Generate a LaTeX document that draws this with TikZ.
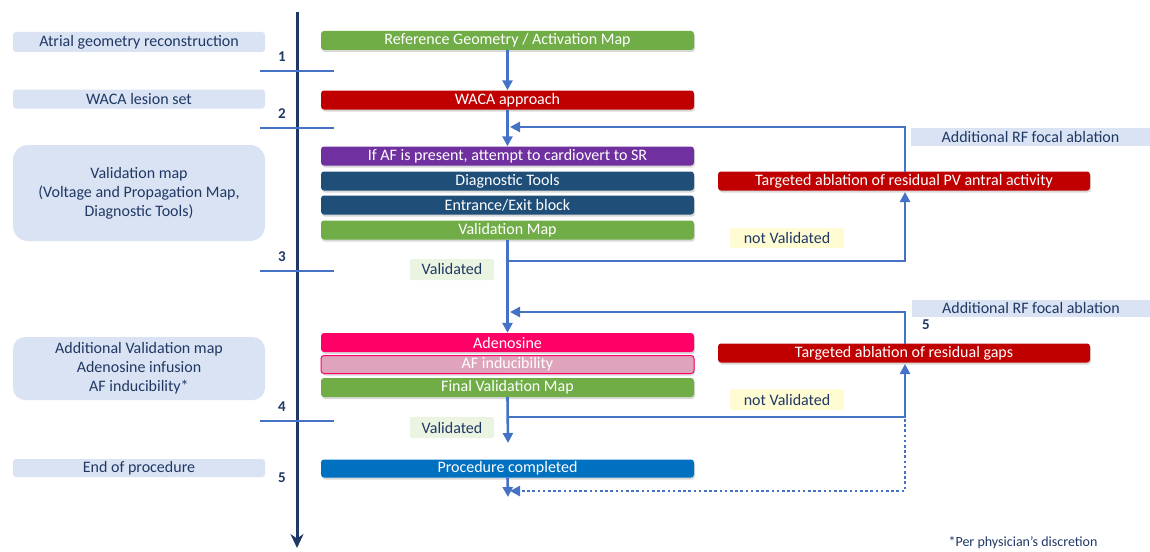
\documentclass[tikz,border=0pt]{standalone}
\usepackage{fontspec}
\setmainfont{Carlito}
\usetikzlibrary{arrows.meta,shadows}
\definecolor{navy}{HTML}{203864}
\definecolor{lblue}{HTML}{DAE3F3}
\definecolor{arrblue}{HTML}{4472C4}
\definecolor{cgreen}{HTML}{70AD47}
\definecolor{cred}{HTML}{C00000}
\definecolor{cpurple}{HTML}{7030A0}
\definecolor{cdblue}{HTML}{1F4E79}
\definecolor{cpink}{HTML}{FF0066}
\definecolor{clpink}{HTML}{DFA3BC}
\definecolor{cproc}{HTML}{0070C0}
\definecolor{cyellow}{HTML}{FFFBD3}
\definecolor{cvalid}{HTML}{EAF4E1}
\tikzset{
  cbox/.style={rounded corners=3pt, minimum width=373pt, minimum height=19pt, inner sep=0pt,
    text=white, font=\fontsize{16}{18}\selectfont,
    drop shadow={opacity=0.3, shadow xshift=1pt, shadow yshift=-2pt}},
  rbox/.style={cbox, minimum width=372pt},
  lbox/.style={fill=lblue, rounded corners=3pt, minimum width=252pt, inner sep=0pt,
    text=navy, font=\fontsize{16}{19}\selectfont, align=center},
  tag/.style={rounded corners=2pt, inner sep=0pt, text=navy, font=\fontsize{16}{18}\selectfont},
  num/.style={text=navy, font=\bfseries\fontsize{15}{17}\selectfont},
  tick/.style={draw=arrblue, line width=2.6pt},
  flow/.style={draw=arrblue, line width=2.6pt},
  arr/.style={flow, -{Triangle[length=10pt,width=10pt]}},
  axisline/.style={draw=navy, line width=3pt, -{Stealth[length=14pt,width=13pt]}},
}
\begin{document}
\begin{tikzpicture}[x=1pt,y=-1pt]
\useasboundingbox (0,0) rectangle (1150,551);
% axis
\draw[axisline] (297,12) -- (297,548);
\foreach \yy in {71,128,271,421} \draw[tick] (260,\yy) -- (334,\yy);
\node[num] (n1) at (282,57) {1};
\node[num] (n2) at (282,114) {2};
\node[num] (n3) at (282,257) {3};
\node[num] (n4) at (282,407) {4};
\node[num] (n5) at (282,478) {5};
% left labels
\node[lbox, minimum height=20pt] (l1) at (139,42) {Atrial geometry reconstruction};
\node[lbox, minimum height=19pt] (l2) at (139,99) {WACA lesion set};
\node[lbox, minimum height=96pt, rounded corners=15pt] (l3) at (139,193) {Validation map\\(Voltage and Propagation Map,\\Diagnostic Tools)};
\node[lbox, minimum height=63pt, rounded corners=12pt] (l4) at (139,368.5) {Additional Validation map\\Adenosine infusion\\AF inducibility*};
\node[lbox, minimum height=18pt] (l5) at (139,468) {End of procedure};
% centre boxes
\node[cbox, fill=cgreen] (ref) at (507.5,40.5) {Reference Geometry / Activation Map};
\node[cbox, fill=cred] (waca) at (507.5,100) {WACA approach};
\node[cbox, fill=cpurple] (af) at (507.5,156) {If AF is present, attempt to cardiovert to SR};
\node[cbox, fill=cdblue] (diag) at (507.5,181) {Diagnostic Tools};
\node[cbox, fill=cdblue] (ent) at (507.5,205) {Entrance/Exit block};
\node[cbox, fill=cgreen] (val) at (507.5,230) {Validation Map};
\node[cbox, fill=cpink] (ade) at (507.5,342.5) {Adenosine};
\node[cbox, fill=clpink, draw=cpink, line width=1pt, minimum height=18pt] (ind) at (507.5,364.5) {AF inducibility};
\node[cbox, fill=cgreen] (fin) at (507.5,387.5) {Final Validation Map};
\node[cbox, fill=cproc, minimum height=18pt] (proc) at (507.5,468.5) {Procedure completed};
% right boxes
\node[rbox, fill=cred] (pv) at (904,181) {Targeted ablation of residual PV antral activity};
\node[rbox, fill=cred] (gap) at (904,353) {Targeted ablation of residual gaps};
\node[tag, fill=lblue, minimum width=239pt, minimum height=18pt, rounded corners=0pt] (rf1) at (1030.5,137) {Additional RF focal ablation};
\node[tag, fill=lblue, minimum width=238pt, minimum height=17pt, rounded corners=0pt] (rf2) at (1031,308) {Additional RF focal ablation};
\node[num] (n5b) at (926,325) {5};
\node[tag, fill=cyellow, minimum width=114pt, minimum height=20pt] (nv1) at (787,238) {not Validated};
\node[tag, fill=cyellow, minimum width=114pt, minimum height=21pt] (nv2) at (787,399.5) {not Validated};
\node[tag, fill=cvalid, minimum width=84pt, minimum height=21pt] (v1) at (452,269.5) {Validated};
\node[tag, fill=cvalid, minimum width=84pt, minimum height=21pt] (v2) at (452,427.5) {Validated};
\node[text=navy, font=\fontsize{14}{16}\selectfont, anchor=base] (foot) at (1023,546) {*Per physician’s discretion};
% coordinates
\coordinate (j1) at (510,127);
\coordinate (b1) at (508,261);
\coordinate (j2) at (510,312);
\coordinate (b2) at (508,417);
\coordinate (a2) at (508,443);
\coordinate (a3) at (508,497);
\coordinate (j3) at (510,491);
\coordinate (d1) at (905,419);
\coordinate (p1) at (905,172);
\coordinate (p2) at (905,192);
\coordinate (g1) at (905,344);
\coordinate (g2) at (905,364);
% flow connectors
\draw[arr] (ref.south) -- (waca.north);
\draw[arr] (waca.south) -- (af.north);
\draw[arr] (p1) |- (j1);
\draw[arr] (val.south) -- (ade.north);
\draw[arr] (b1) -| (p2);
\draw[arr] (g1) |- (j2);
\draw[arr] (fin.south) -- (a2);
\draw[arr] (b2) -| (g2);
\draw[arr] (proc.south) -- (a3);
\draw[flow, dash pattern=on 2.6pt off 2.6pt, -{Triangle[length=10pt,width=10pt]}] (d1) |- (j3);
\end{tikzpicture}
\end{document}
